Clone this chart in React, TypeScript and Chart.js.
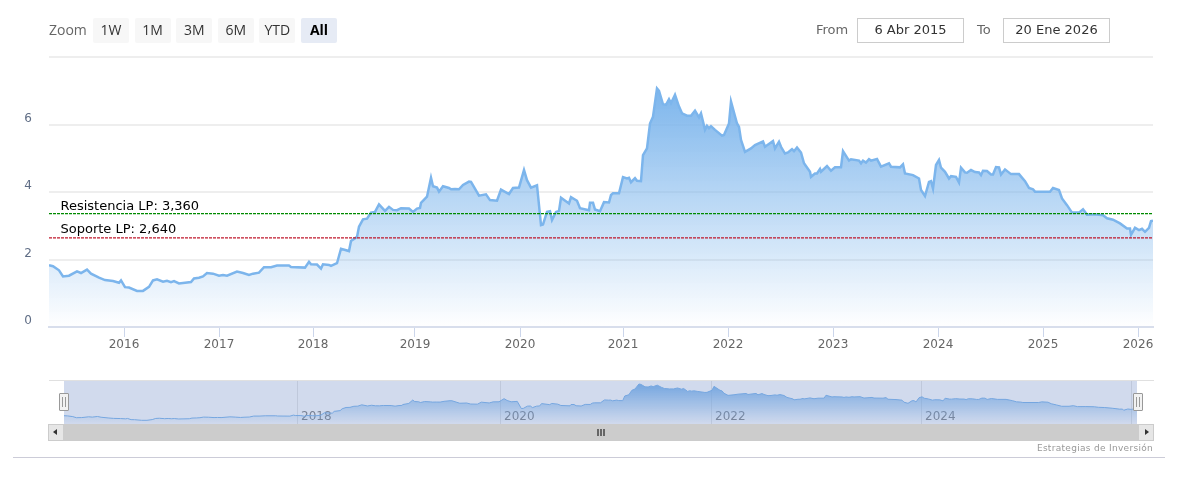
import React, { useEffect, useRef } from 'react';
import { Chart, registerables } from 'chart.js';

Chart.register(...registerables);

// ordinal position of each reading, in trading weeks since 6 Abr 2015
const priceWeeks = [
  0, 2, 5, 7, 10, 14, 16, 19, 21, 25, 28, 32, 35, 36, 38, 40, 44, 47, 50, 52, 54, 57, 59, 61, 62.5, 65, 71, 72.5, 75, 77, 79,
  82, 85, 87, 89, 94, 97, 100, 102, 105, 107.5, 111, 114, 120, 121, 128, 130, 131, 134, 136, 137, 140, 141, 144, 146, 150, 151,
  154, 155, 157, 159, 161, 163, 165, 168, 170, 172, 174, 176, 180, 182, 184, 185.5, 186, 189, 191, 192, 194, 195, 197, 200, 201,
  203, 205, 207, 210, 211, 215, 218.5, 220.5, 224, 226, 230, 232, 235, 237.5, 239, 241, 244, 246, 247, 249, 250.5, 251.5, 253.5,
  255, 256, 260, 261, 264, 265.5, 270, 270.5, 272, 273, 275.5, 277.5, 280, 281, 282, 285, 287, 289, 290, 291, 293, 294, 296, 297,
  299, 300.5, 302, 304, 305, 307, 308.5, 310, 311, 313, 315, 316.5, 319, 321, 323, 325, 326, 328, 329, 330, 331, 333, 336.5, 337.5,
  340, 341, 344, 345, 346, 348, 351, 353, 357, 358, 362, 363, 365, 366, 368, 369.5, 371.5, 372.5, 374, 376, 377.5, 380.5, 381, 383,
  384, 385.5, 386, 389, 391, 393, 396, 397, 400, 401, 405, 406, 407, 408.5, 410, 411, 414, 416, 420, 421, 425.5, 427, 428, 432, 435,
  436, 438, 440, 441, 442, 443.5, 445, 446, 448, 450, 451, 453.5, 455, 456, 458, 459, 461, 463, 465, 466, 467, 469, 471, 472, 473.5,
  475, 476, 478, 481, 485, 488, 490, 492, 493, 500.5, 502, 505, 506.5, 509, 511.5, 515, 517, 519, 523, 527, 529, 532, 535.5, 539,
  540.5, 541, 543, 545, 546.5, 548, 550, 551, 552,
];
const priceValues = [
  1.83, 1.8, 1.68, 1.5, 1.52, 1.65, 1.6, 1.7, 1.58, 1.46, 1.39, 1.36, 1.31, 1.38, 1.18, 1.17, 1.07, 1.07, 1.19, 1.38, 1.41, 1.34, 1.37, 1.33, 1.36, 1.29, 1.33, 1.44, 1.46, 1.5, 1.6,
  1.58, 1.52, 1.54, 1.52, 1.64, 1.6, 1.54, 1.58, 1.61, 1.77, 1.77, 1.82, 1.82, 1.78, 1.76, 1.93, 1.86, 1.85, 1.73, 1.86, 1.84, 1.81, 1.89, 2.32, 2.25, 2.55,
  2.67, 2.97, 3.19, 3.21, 3.39, 3.41, 3.63, 3.44, 3.56, 3.47, 3.46, 3.52, 3.51, 3.41, 3.51, 3.53, 3.68, 3.86, 4.42, 4.17, 4.13, 4.01, 4.17, 4.12, 4.08,
  4.09, 4.08, 4.21, 4.31, 4.3, 3.89, 3.93, 3.76, 3.74, 4.07, 3.94, 4.12, 4.13, 4.65, 4.35, 4.13, 4.2, 3.02, 3.04, 3.41, 3.43, 3.17, 3.41,
  3.44, 3.83, 3.66, 3.85, 3.74, 3.52, 3.46, 3.68, 3.68, 3.48, 3.43, 3.7, 3.69, 3.91, 3.96, 3.96, 4.44, 4.4, 4.42, 4.29, 4.41, 4.33, 4.32, 5.09,
  5.29, 6.03, 6.23, 7.07, 7.0, 6.6, 6.58, 6.75, 6.63, 6.88, 6.53, 6.33, 6.26, 6.26, 6.41, 6.21, 6.33, 5.84, 5.96, 5.89, 5.95, 5.84, 5.67, 5.69,
  6.03, 6.68, 6.03, 5.93, 5.54, 5.19, 5.29, 5.39, 5.5, 5.34, 5.51, 5.29, 5.49, 5.34, 5.14, 5.17, 5.27, 5.21, 5.32, 5.17, 4.85, 4.6, 4.45, 4.55,
  4.55, 4.68, 4.6, 4.77, 4.63, 4.73, 4.73, 5.21, 4.93, 4.97, 4.93, 4.85, 4.93, 4.87, 4.97, 4.93, 4.98, 4.75, 4.85, 4.75, 4.73, 4.82, 4.55, 4.5, 4.4,
  4.06, 3.88, 4.3, 4.32, 4.1, 4.8, 4.95, 4.72, 4.6, 4.4, 4.47, 4.45, 4.28, 4.72, 4.58, 4.57, 4.65, 4.59, 4.58, 4.5, 4.63, 4.62, 4.52, 4.52, 4.74,
  4.73, 4.52, 4.67, 4.53, 4.53, 4.32, 4.12, 4.08, 4.01, 4.01, 4.12, 4.06, 3.81, 3.61, 3.39, 3.39, 3.49, 3.33, 3.34, 3.31, 3.22, 3.18, 3.07, 2.92,
  2.92, 2.73, 2.94, 2.87, 2.91, 2.82, 2.94, 3.14, 3.15,
];

const yearLabels = ['2016', '2017', '2018', '2019', '2020', '2021', '2022', '2023', '2024', '2025', '2026'];
const yearWeeks = [37.5, 85, 132, 183, 235.5, 287, 339.5, 392, 444.5, 497, 544.5];

// the navigator has its own ordinal axis, thinner in the early years
const navYearLabels = ['2018', '2020', '2022', '2024', ''];
const navAnchorWeeks = [0, 132, 235.5, 339.5, 444.5, 544.5, 552];
const navAnchorPos = [0, 116.5, 218, 323.5, 428.5, 533.5, 536.5];

const resistance = 3.36;
const support = 2.64;
const resistanceLabel = 'Resistencia LP: 3,360';
const supportLabel = 'Soporte LP: 2,640';

const rangeButtons = ['1W', '1M', '3M', '6M', 'YTD', 'All'];
const fromDate = '6 Abr 2015';
const toDate = '20 Ene 2026';

const FONT = '"DejaVu Sans", sans-serif';
const LINE = '#7cb5ec';
const PEAK = Math.max(...priceValues);

function toNavPos(week: number) {
  let i = 0;
  while (i < navAnchorWeeks.length - 2 && week > navAnchorWeeks[i + 1]) i++;
  const t = (week - navAnchorWeeks[i]) / (navAnchorWeeks[i + 1] - navAnchorWeeks[i]);
  return navAnchorPos[i] + t * (navAnchorPos[i + 1] - navAnchorPos[i]);
}

function areaFill(ctx: any) {
  const { chart } = ctx;
  const area = chart.chartArea;
  if (!area) return 'transparent';
  const g = chart.ctx.createLinearGradient(0, chart.scales.y.getPixelForValue(PEAK), 0, area.bottom);
  g.addColorStop(0, 'rgba(124,181,236,1)');
  g.addColorStop(1, 'rgba(124,181,236,0)');
  return g;
}

const levelLabels = {
  id: 'levelLabels',
  afterDatasetsDraw(chart: any) {
    const { ctx, scales } = chart;
    ctx.save();
    ctx.font = `13px ${FONT}`;
    ctx.fillStyle = '#000';
    ctx.textAlign = 'left';
    ctx.textBaseline = 'alphabetic';
    ctx.fillText(resistanceLabel, 60.5, scales.y.getPixelForValue(resistance) - 4);
    ctx.fillText(supportLabel, 60.5, scales.y.getPixelForValue(support) - 5);
    ctx.restore();
  },
};

const navMask = {
  id: 'navMask',
  afterDatasetsDraw(chart: any) {
    const { ctx, chartArea: a } = chart;
    ctx.save();
    ctx.fillStyle = 'rgba(102,133,194,0.3)';
    ctx.fillRect(a.left, a.top, a.right - a.left, a.bottom - a.top);
    ctx.restore();
  },
};

const MainChart: React.FC = () => {
  const canvasRef = useRef<HTMLCanvasElement | null>(null);
  useEffect(() => {
    if (!canvasRef.current) return;
    const levelLine = (value: number, color: string) => ({
      data: [{ x: 0, y: value }, { x: 552, y: value }],
      borderColor: color,
      borderWidth: 1.4,
      borderDash: [3, 1],
      pointRadius: 0,
      fill: false,
    });
    const chart = new Chart(canvasRef.current, {
      type: 'line',
      data: {
        datasets: [
          levelLine(resistance, '#008a00'),
          levelLine(support, '#c0182c'),
          {
            data: priceWeeks.map((w, i) => ({ x: w, y: priceValues[i] })),
            borderColor: LINE,
            borderWidth: 2.5,
            pointRadius: 0,
            tension: 0,
            fill: 'origin',
            backgroundColor: areaFill,
          },
        ],
      } as any,
      options: {
        animation: false,
        responsive: false,
        layout: { padding: { top: 57, right: 24, left: 0, bottom: 0 } },
        plugins: { legend: { display: false }, tooltip: { enabled: false } },
        scales: {
          x: {
            type: 'linear',
            min: 0,
            max: 552,
            afterFit: (s: any) => { s.height = 33; },
            afterBuildTicks: (s: any) => { s.ticks = yearWeeks.map((value) => ({ value })); },
            grid: { drawOnChartArea: false, drawTicks: true, tickLength: 10, tickColor: '#ccd6eb' },
            border: { color: '#d8deec', width: 2 },
            ticks: {
              autoSkip: false,
              maxRotation: 0,
              padding: 1,
              color: '#666666',
              font: { family: FONT, size: 12 },
              callback: (v: any) => yearLabels[yearWeeks.indexOf(Number(v))] ?? '',
            },
          },
          y: {
            min: 0,
            max: 8,
            afterFit: (s: any) => { s.width = 49; },
            grid: { color: '#eeeeee', lineWidth: 2, drawTicks: false },
            border: { display: false },
            ticks: {
              stepSize: 2,
              padding: 17,
              labelOffset: -6,
              color: '#5f6d85',
              font: { family: FONT, size: 12 },
              callback: (v: any) => (v === 8 ? '' : String(v)),
            },
          },
        },
      } as any,
      plugins: [levelLabels],
    });
    return () => chart.destroy();
  }, []);
  return <canvas ref={canvasRef} width={1177} height={360} style={{ position: 'absolute', left: 0, top: 0 }} />;
};

const Navigator: React.FC = () => {
  const canvasRef = useRef<HTMLCanvasElement | null>(null);
  useEffect(() => {
    if (!canvasRef.current) return;
    const tickPos = [132, 235.5, 339.5, 444.5, 544.5].map(toNavPos);
    const chart = new Chart(canvasRef.current, {
      type: 'line',
      data: {
        datasets: [
          {
            data: priceWeeks.map((w, i) => ({ x: toNavPos(w), y: priceValues[i] })),
            borderColor: LINE,
            borderWidth: 1,
            pointRadius: 0,
            tension: 0,
            fill: 'origin',
            backgroundColor: areaFill,
          },
        ],
      } as any,
      options: {
        animation: false,
        responsive: false,
        layout: { padding: { top: 10, right: 40, left: 64, bottom: 6 } },
        plugins: { legend: { display: false }, tooltip: { enabled: false } },
        scales: {
          x: {
            type: 'linear',
            min: 0,
            max: 536.5,
            afterFit: (s: any) => { s.height = 0; },
            afterBuildTicks: (s: any) => { s.ticks = tickPos.map((value) => ({ value })); },
            grid: { color: '#e6e6e6', drawTicks: false },
            border: { display: false },
            ticks: {
              autoSkip: false,
              maxRotation: 0,
              align: 'start',
              mirror: true,
              labelOffset: 4,
              padding: 0,
              color: '#808080',
              font: { family: FONT, size: 12 },
              callback: (v: any) => navYearLabels[tickPos.indexOf(Number(v))] ?? '',
            },
          },
          y: { display: false, min: 0.46, max: 7.73 },
        },
      } as any,
      plugins: [navMask],
    });
    return () => chart.destroy();
  }, []);
  return <canvas ref={canvasRef} width={1177} height={60} style={{ position: 'absolute', left: 0, top: 370 }} />;
};

const box = (left: number, top: number, width: number, height: number, extra: React.CSSProperties = {}): React.CSSProperties => ({
  position: 'absolute',
  left,
  top,
  width,
  height,
  boxSizing: 'border-box',
  ...extra,
});

const Handle: React.FC<{ left: number }> = ({ left }) => (
  <div style={box(left, 393, 10, 18, { background: '#f2f2f2', border: '1px solid #999999', borderRadius: 1 })}>
    <div style={box(2, 3, 1, 10, { background: '#999999' })} />
    <div style={box(5, 3, 1, 10, { background: '#999999' })} />
  </div>
);

export default function App() {
  const label = (text: string, left: number, top: number, width: number, extra: React.CSSProperties = {}) => (
    <div style={box(left, top, width, 25, { font: `13px/25px ${FONT}`, color: '#666666', ...extra })}>{text}</div>
  );
  return (
    <div style={box(0, 0, 1177, 490, { background: '#fff', overflow: 'hidden' })}>
      <MainChart />
      <Navigator />

      {label('Zoom', 49, 17, 44, { font: '14px/25px "Open Sans", sans-serif' })}
      {rangeButtons.map((b, i) => (
        <div
          key={b}
          style={box(93 + i * 41.6, 18, 36, 25, {
            background: b === 'All' ? '#e6ebf5' : '#f7f7f7',
            borderRadius: 2,
            textAlign: 'center',
            font: `${b === 'All' ? 'bold ' : ''}14px/23px "Open Sans", sans-serif`,
            color: b === 'All' ? '#000' : '#333333',
          })}
        >
          {b}
        </div>
      ))}

      {label('From', 816, 17, 40)}
      <div style={box(857, 18, 107, 25, { border: '1px solid #cccccc', textAlign: 'center', font: `13px/22px ${FONT}`, color: '#333333' })}>{fromDate}</div>
      {label('To', 977, 17, 24)}
      <div style={box(1003, 18, 107, 25, { border: '1px solid #cccccc', textAlign: 'center', font: `13px/22px ${FONT}`, color: '#333333' })}>{toDate}</div>

      {/* navigator outline either side of the selection */}
      <div style={box(49, 380, 1105, 1, { background: '#e0e0e0' })} />

      {/* scrollbar */}
      <div style={box(64, 424, 1074, 17, { background: '#cccccc' })} />
      <div style={box(48, 424, 16, 17, { background: '#e6e6e6', border: '1px solid #cccccc' })}>
        <div style={box(4, 4, 0, 0, { borderTop: '3px solid transparent', borderBottom: '3px solid transparent', borderRight: '4px solid #333' })} />
      </div>
      <div style={box(1138, 424, 16, 17, { background: '#e6e6e6', border: '1px solid #cccccc' })}>
        <div style={box(6, 4, 0, 0, { borderTop: '3px solid transparent', borderBottom: '3px solid transparent', borderLeft: '4px solid #333' })} />
      </div>
      {[597, 600, 603].map((x) => (
        <div key={x} style={box(x, 429, 2, 7, { background: '#666666' })} />
      ))}

      <Handle left={59} />
      <Handle left={1133} />

      <div style={box(953, 442, 200, 13, { textAlign: 'right', font: `9px/13px ${FONT}`, color: '#999999', letterSpacing: 0.3 })}>Estrategias de Inversión</div>
      <div style={box(13, 457, 1152, 1, { background: '#ccccd8' })} />
    </div>
  );
}
